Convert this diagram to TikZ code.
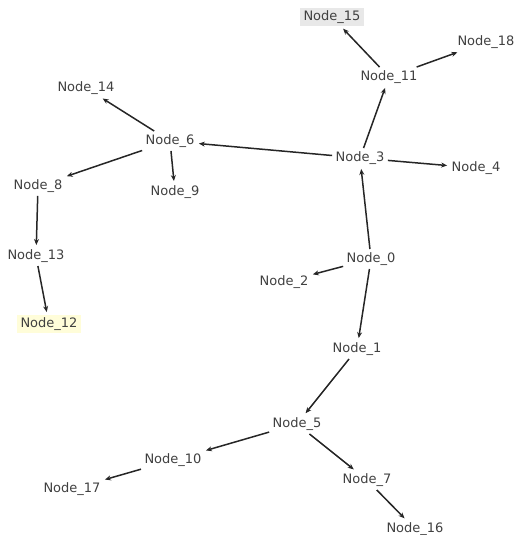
\documentclass[tikz,border=0pt]{standalone}
\usepackage{fontspec}
\setmainfont{DejaVu Sans}
\usetikzlibrary{arrows.meta}
\begin{document}
\begin{tikzpicture}[x=1pt,y=-1pt,
  nd/.style={text=black!75, font=\fontsize{13}{15}\selectfont, inner sep=2pt, outer sep=1.5pt},
  edge/.style={draw=black!85, line width=1.5pt, -{Stealth[length=6pt,width=5pt]}, shorten >=1pt}]
\useasboundingbox (0,0) rectangle (514,535);
\node[nd, fill=black!9, inner xsep=4pt, inner ysep=3pt] (n15) at (332,17) {Node\_15};
\node[nd] (n18) at (486,42) {Node\_18};
\node[nd] (n11) at (389,77) {Node\_11};
\node[nd] (n14) at (86,88) {Node\_14};
\node[nd] (n6) at (170,141) {Node\_6};
\node[nd] (n3) at (360,158) {Node\_3};
\node[nd] (n4) at (476,168) {Node\_4};
\node[nd] (n8) at (38,186) {Node\_8};
\node[nd] (n9) at (175,192) {Node\_9};
\node[nd] (n13) at (36,256) {Node\_13};
\node[nd] (n0) at (371,259) {Node\_0};
\node[nd] (n2) at (284,282) {Node\_2};
\node[nd, fill=yellow!15, inner xsep=4pt, inner ysep=3pt] (n12) at (49,324) {Node\_12};
\node[nd] (n1) at (357,349) {Node\_1};
\node[nd] (n5) at (297,424) {Node\_5};
\node[nd] (n10) at (173,460) {Node\_10};
\node[nd] (n17) at (72,489) {Node\_17};
\node[nd] (n7) at (367,480) {Node\_7};
\node[nd] (n16) at (415,529) {Node\_16};
\draw[edge] (n11) -- (n15);
\draw[edge] (n11) -- (n18);
\draw[edge] (n3) -- (n11);
\draw[edge] (n6) -- (n14);
\draw[edge] (n3) -- (n6);
\draw[edge] (n3) -- (n4);
\draw[edge] (n6) -- (n8);
\draw[edge] (n6) -- (n9);
\draw[edge] (n8) -- (n13);
\draw[edge] (n13) -- (n12);
\draw[edge] (n0) -- (n3);
\draw[edge] (n0) -- (n2);
\draw[edge] (n0) -- (n1);
\draw[edge] (n1) -- (n5);
\draw[edge] (n5) -- (n10);
\draw[edge] (n10) -- (n17);
\draw[edge] (n5) -- (n7);
\draw[edge] (n7) -- (n16);
\end{tikzpicture}
\end{document}
